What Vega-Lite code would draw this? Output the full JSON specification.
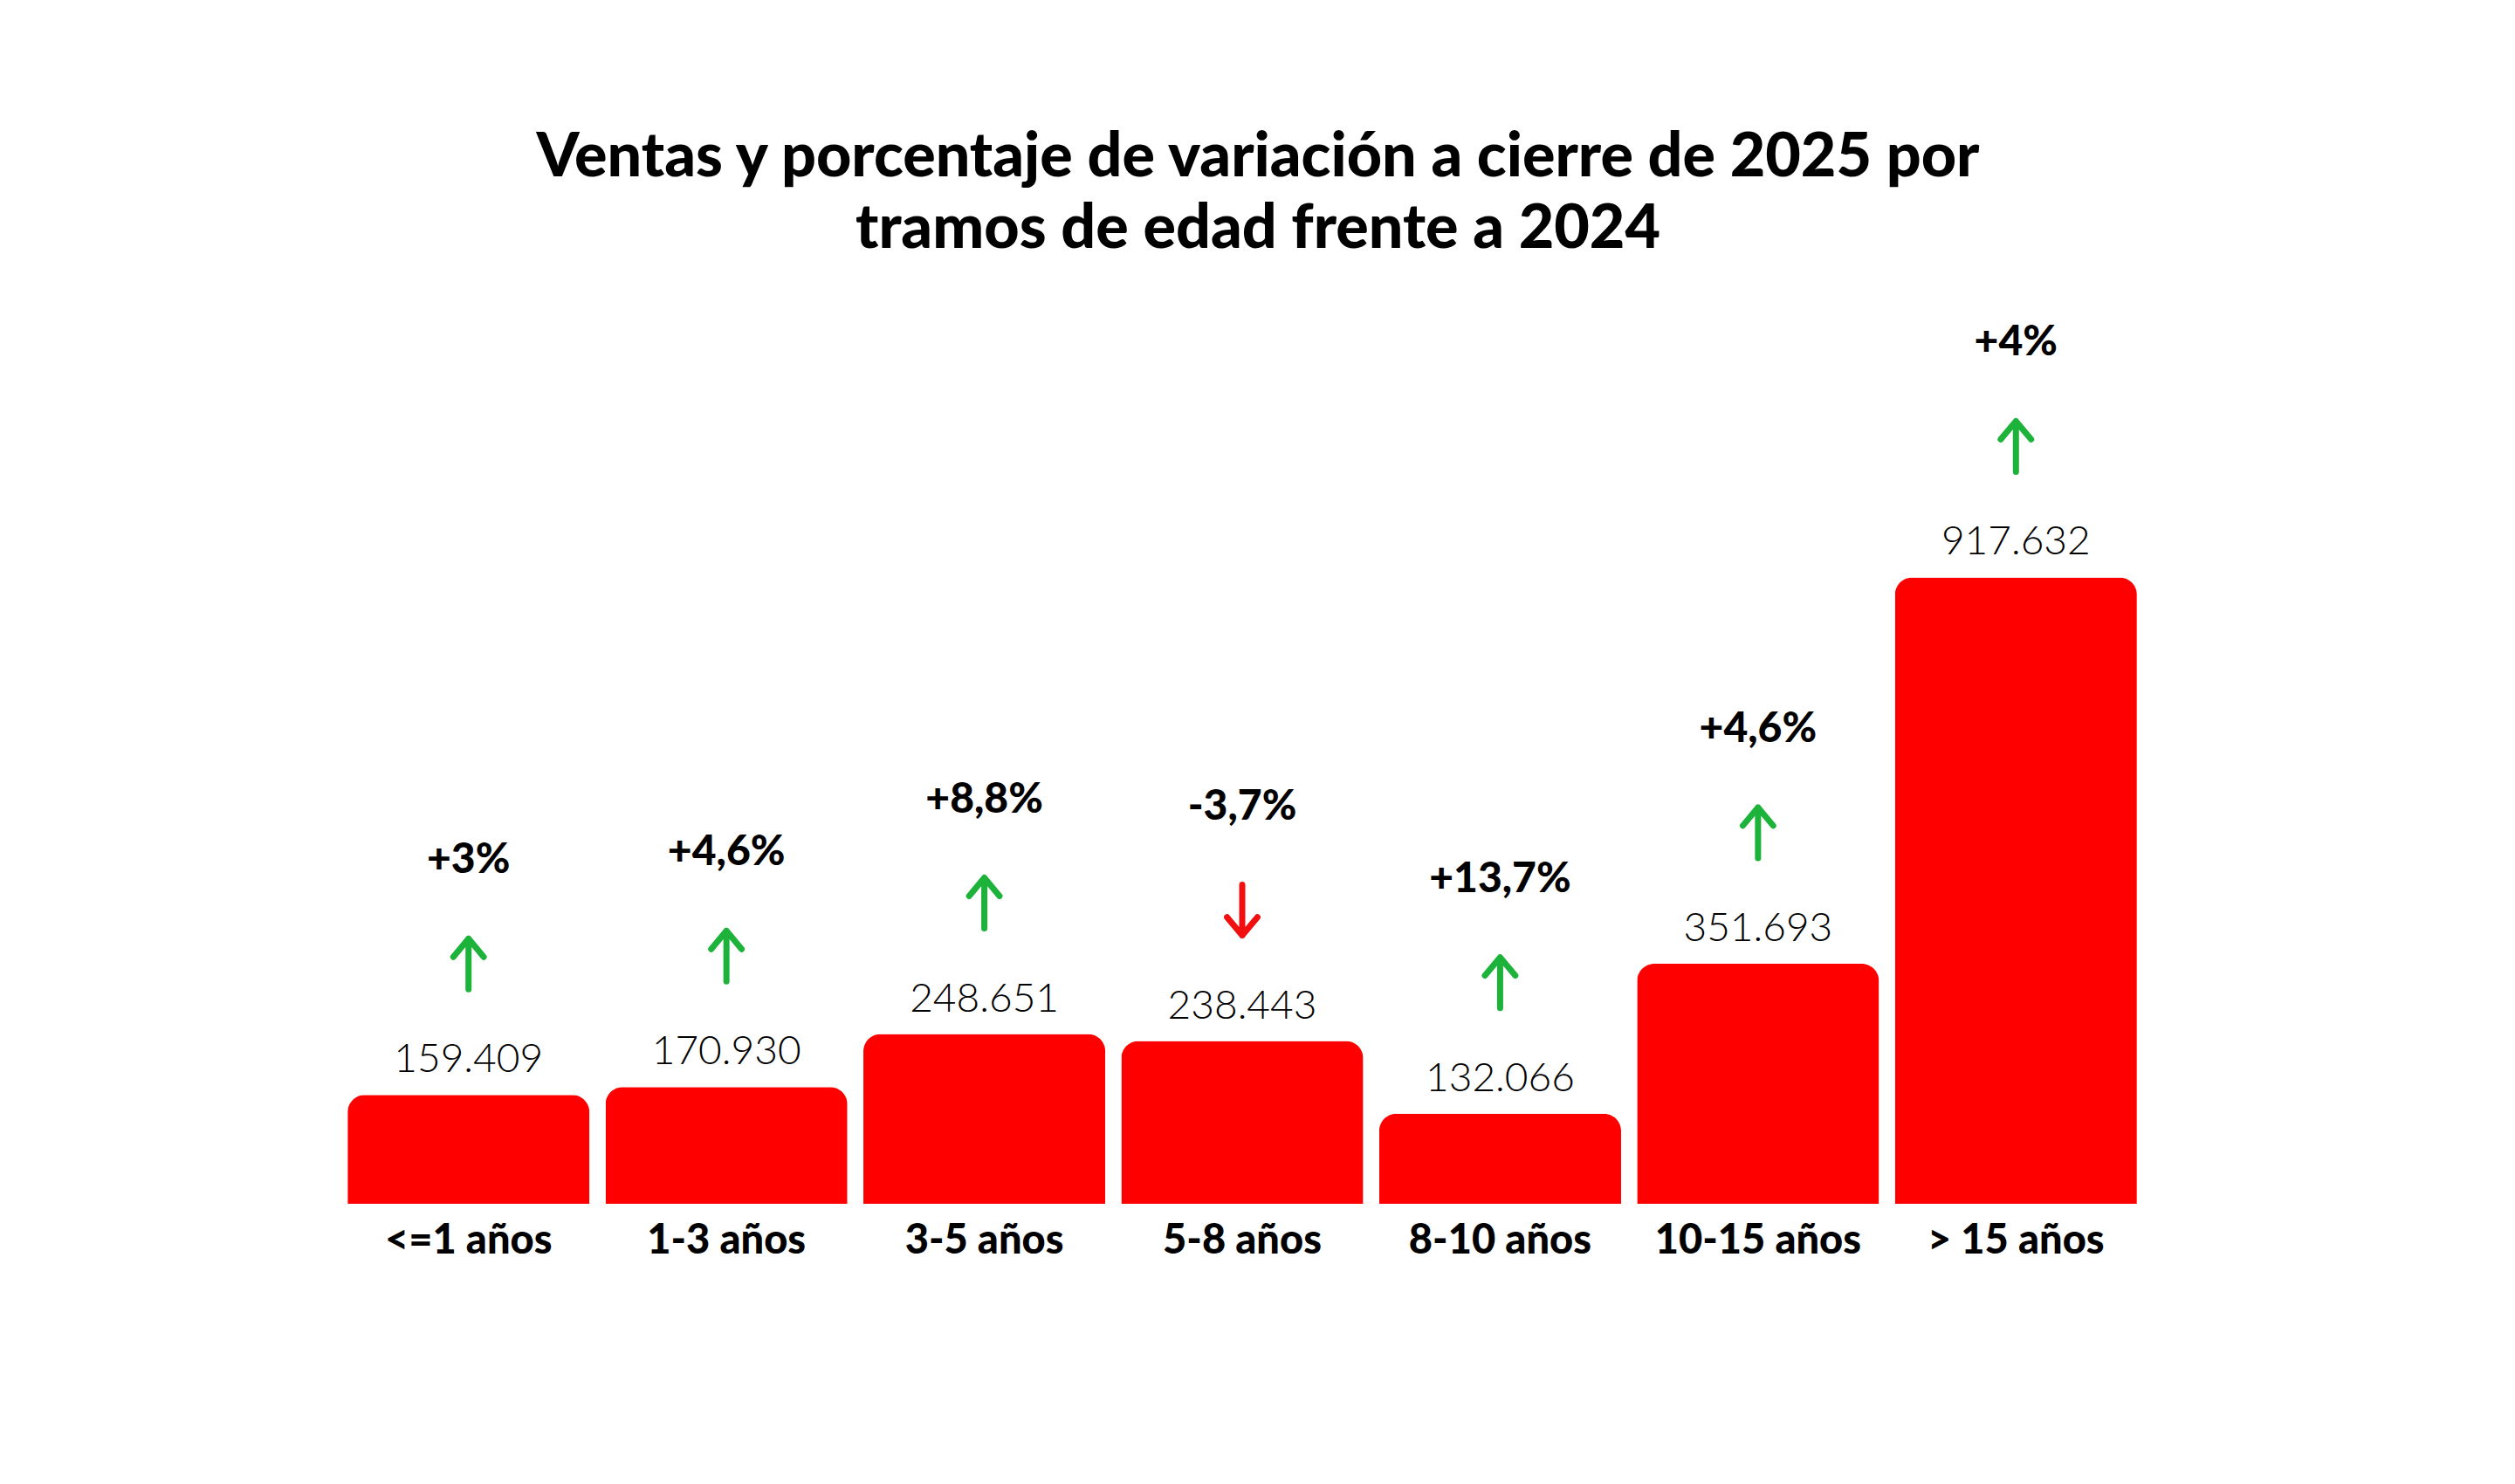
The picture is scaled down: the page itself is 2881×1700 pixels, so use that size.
{
  "$schema": "https://vega.github.io/schema/vega-lite/v6.json",
  "autosize": {"type": "none"},
  "padding": {"left": 389, "right": 424, "top": 289, "bottom": 321},
  "width": 2068,
  "height": 1090,
  "background": "white",
  "title": {
    "text": ["Ventas y porcentaje de variación a cierre de 2025 por", "tramos de edad frente a 2024"],
    "anchor": "middle",
    "font": "Lato",
    "fontSize": 70,
    "fontWeight": 900,
    "color": "#000000",
    "lineHeight": 82,
    "offset": -10,
    "dx": 18
  },
  "data": {
    "values": [
      {"tramo": "<=1 años", "ventas": 159409, "ventas_label": "159.409", "variacion": 3.0, "var_label": "+3%"},
      {"tramo": "1-3 años", "ventas": 170930, "ventas_label": "170.930", "variacion": 4.6, "var_label": "+4,6%"},
      {"tramo": "3-5 años", "ventas": 248651, "ventas_label": "248.651", "variacion": 8.8, "var_label": "+8,8%"},
      {"tramo": "5-8 años", "ventas": 238443, "ventas_label": "238.443", "variacion": -3.7, "var_label": "-3,7%"},
      {"tramo": "8-10 años", "ventas": 132066, "ventas_label": "132.066", "variacion": 13.7, "var_label": "+13,7%"},
      {"tramo": "10-15 años", "ventas": 351693, "ventas_label": "351.693", "variacion": 4.6, "var_label": "+4,6%"},
      {"tramo": "> 15 años", "ventas": 917632, "ventas_label": "917.632", "variacion": 4.0, "var_label": "+4%"}
    ]
  },
  "encoding": {
    "x": {
      "field": "tramo", "type": "nominal", "sort": null,
      "scale": {"paddingInner": 0.062, "paddingOuter": 0.031},
      "axis": {
        "title": null, "domain": false, "ticks": false, "labelAngle": 0,
        "labelFont": "Lato", "labelFontSize": 47, "labelFontWeight": 900,
        "labelColor": "#000000", "labelPadding": 19, "labelLimit": 0
      }
    },
    "y": {
      "field": "ventas", "type": "quantitative",
      "scale": {"domain": [0, 1394000], "nice": false},
      "axis": null
    }
  },
  "layer": [
    {
      "mark": {"type": "bar", "color": "#FF0000", "cornerRadiusTopLeft": 20, "cornerRadiusTopRight": 20}
    },
    {
      "mark": {"type": "text", "font": "Lato", "fontSize": 46, "fontWeight": 300, "color": "#000000", "baseline": "middle", "dy": -40},
      "encoding": {"text": {"field": "ventas_label"}}
    },
    {
      "mark": {"type": "point", "filled": false, "size": 3364, "strokeWidth": 7, "strokeCap": "round", "strokeJoin": "round", "opacity": 1, "yOffset": -150, "clip": false},
      "encoding": {
        "shape": {
          "condition": {"test": "datum.variacion < 0", "value": "M0,-1L0,1M-0.6,0.28L0,1L0.6,0.28"},
          "value": "M0,1L0,-1M-0.6,-0.28L0,-1L0.6,-0.28"
        },
        "color": {
          "condition": {"test": "datum.variacion < 0", "value": "#F20F0F"},
          "value": "#1DB33A"
        }
      }
    },
    {
      "mark": {"type": "text", "font": "Lato", "fontSize": 48, "fontWeight": 900, "color": "#000000", "baseline": "middle", "dy": -268},
      "encoding": {"text": {"field": "var_label"}}
    }
  ],
  "config": {"view": {"stroke": null}}
}
